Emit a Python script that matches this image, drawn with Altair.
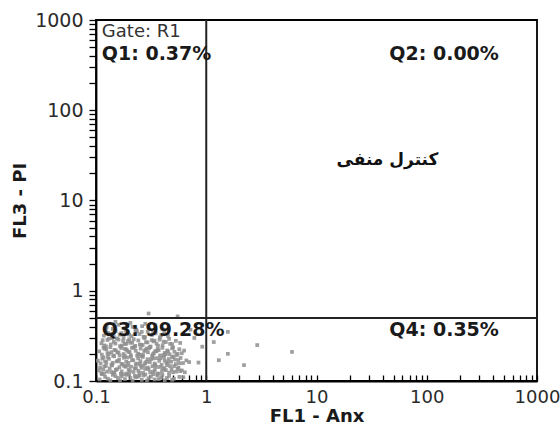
import altair as alt
import pandas as pd

# ---------------- data ----------------
band_a_x = [0.108,0.121,0.135,0.142,0.158,0.17,0.183,0.2,0.215,0.23,
            0.248,0.26,0.28,0.3,0.315,0.34,0.36,0.39,0.42,0.46,
            0.51,0.57,0.113,0.128,0.15,0.165,0.19,0.205,0.24,0.27,
            0.29,0.33,0.37,0.4,0.44,0.49,0.62,0.118,0.176,0.225]
band_a_y = [0.104,0.111,0.102,0.117,0.108,0.113,0.105,0.119,0.101,0.11,
            0.115,0.103,0.118,0.107,0.112,0.104,0.116,0.109,0.102,0.114,
            0.106,0.111,0.119,0.106,0.113,0.102,0.117,0.108,0.112,0.115,
            0.101,0.119,0.105,0.117,0.108,0.103,0.11,0.12,0.118,0.114]

band_b_x = [0.106,0.112,0.119,0.126,0.133,0.14,0.147,0.155,0.163,0.171,
            0.18,0.189,0.198,0.208,0.219,0.23,0.242,0.254,0.267,0.28,
            0.295,0.31,0.325,0.342,0.36,0.378,0.397,0.417,0.44,0.46,
            0.485,0.51,0.535,0.56,0.6,0.64,
            0.109,0.123,0.137,0.151,0.168,0.185,0.203,0.225,0.247,0.272,
            0.3,0.33,0.35,0.372,0.405,0.43,0.47,0.5,0.55,0.58,
            0.116,0.145,0.195,0.26]
band_b_y = [0.131,0.122,0.145,0.127,0.138,0.149,0.124,0.135,0.142,0.128,
            0.147,0.121,0.133,0.144,0.126,0.139,0.13,0.148,0.123,0.136,
            0.141,0.125,0.146,0.132,0.12,0.143,0.129,0.137,0.15,0.124,
            0.134,0.146,0.127,0.14,0.131,0.125,
            0.141,0.147,0.126,0.133,0.12,0.144,0.129,0.138,0.123,0.149,
            0.135,0.127,0.143,0.121,0.139,0.132,0.146,0.125,0.137,0.129,
            0.134,0.123,0.148,0.14]

band_c_x = [0.104,0.11,0.117,0.124,0.131,0.138,0.146,0.154,0.162,0.17,
            0.179,0.188,0.197,0.207,0.218,0.229,0.241,0.253,0.266,0.279,
            0.293,0.308,0.323,0.34,0.357,0.375,0.394,0.414,0.435,0.457,
            0.48,0.505,0.53,0.557,0.585,0.615,0.66,0.7,
            0.114,0.128,0.142,0.158,0.174,0.192,0.212,0.235,0.26,0.286,
            0.315,0.345,0.385,0.42,0.45,0.49,0.52,0.57,
            0.121,0.183,0.25,0.33]
band_c_y = [0.168,0.157,0.183,0.161,0.176,0.152,0.188,0.165,0.172,0.155,
            0.181,0.163,0.159,0.186,0.17,0.153,0.178,0.166,0.185,0.158,
            0.174,0.162,0.189,0.156,0.179,0.167,0.151,0.184,0.16,0.175,
            0.164,0.187,0.154,0.171,0.18,0.158,0.169,0.162,
            0.177,0.185,0.159,0.166,0.153,0.182,0.17,0.156,0.188,0.163,
            0.175,0.151,0.179,0.168,0.16,0.184,0.173,0.157,
            0.165,0.189,0.155,0.178]

band_d_x = [0.107,0.113,0.12,0.127,0.135,0.143,0.151,0.16,0.169,0.178,
            0.187,0.197,0.207,0.218,0.229,0.241,0.254,0.267,0.281,0.296,
            0.311,0.327,0.344,0.362,0.381,0.4,0.42,0.442,0.465,0.49,
            0.515,0.54,0.57,0.6,0.63,
            0.117,0.131,0.147,0.164,0.183,0.202,0.224,0.248,0.274,0.303,
            0.335,0.37,0.41,0.45,0.5,0.55,0.124,0.156,0.192,0.236,
            0.29,0.353,0.43,0.138,0.212]
band_d_y = [0.213,0.196,0.228,0.204,0.237,0.191,0.219,0.207,0.232,0.199,
            0.224,0.21,0.193,0.235,0.216,0.201,0.229,0.195,0.222,0.208,
            0.238,0.197,0.214,0.226,0.192,0.233,0.205,0.218,0.198,0.23,
            0.211,0.194,0.225,0.203,0.217,
            0.234,0.2,0.221,0.192,0.227,0.209,0.239,0.196,0.215,0.231,
            0.203,0.22,0.194,0.212,0.236,0.2,0.225,0.207,0.218,0.191,
            0.229,0.214,0.198,0.209,0.233]

band_e_x = [0.112,0.119,0.127,0.136,0.145,0.155,0.165,0.176,0.188,0.2,
            0.213,0.227,0.242,0.258,0.275,0.293,0.312,0.332,0.354,0.377,
            0.402,0.43,0.46,0.49,0.53,0.58,
            0.115,0.131,0.15,0.171,0.194,0.22,0.25,0.284,0.32,0.365,
            0.41,0.47,0.123,0.16,0.205,0.265,0.34,0.14,0.182]
band_e_y = [0.262,0.248,0.285,0.254,0.271,0.296,0.243,0.278,0.258,0.29,
            0.266,0.245,0.281,0.252,0.298,0.268,0.241,0.275,0.259,0.287,
            0.249,0.27,0.293,0.256,0.279,0.264,
            0.283,0.295,0.26,0.247,0.276,0.29,0.253,0.269,0.284,0.246,
            0.273,0.258,0.242,0.288,0.265,0.25,0.28,0.299,0.257]

band_f_x = [0.118,0.128,0.139,0.151,0.164,0.178,0.193,0.21,0.228,0.248,
            0.27,0.294,0.32,0.348,0.38,0.415,0.45,
            0.123,0.145,0.17,0.2,0.235,0.278,0.33,0.39,0.134,0.186,0.26]
band_f_y = [0.318,0.341,0.305,0.356,0.326,0.302,0.348,0.314,0.366,0.331,
            0.309,0.352,0.322,0.337,0.304,0.345,0.316,
            0.36,0.311,0.339,0.327,0.355,0.307,0.343,0.321,0.334,0.362,0.35]

band_g_x = [0.125,0.142,0.16,0.182,0.205,0.232,0.262,0.3,0.345,0.4,0.15,0.215,0.28,0.19]
band_g_y = [0.395,0.378,0.42,0.386,0.44,0.372,0.405,0.388,0.415,0.376,0.452,0.398,0.43,0.41]

# sparse events outside the main cloud
sparse_x = [0.78,0.85,0.92,0.72,1.17,1.57,1.57,2.2,2.9,6.0,1.3,0.3,0.55]
sparse_y = [0.30,0.16,0.24,0.37,0.27,0.35,0.20,0.15,0.25,0.21,0.17,0.56,0.52]

gate_x = [1.0]      # vertical quadrant line (FL1)
gate_y = [0.5]      # horizontal quadrant line (FL3)

tick_values = [0.1,0.2,0.3,0.4,0.5,0.6,0.7,0.8,0.9,
               1,2,3,4,5,6,7,8,9,
               10,20,30,40,50,60,70,80,90,
               100,200,300,400,500,600,700,800,900,1000]

bold_labels = ["Q1: 0.37%", "Q2: 0.00%", "Q3: 99.28%", "Q4: 0.35%"]
bold_lx = [0.113, 45.8, 0.113, 45.8]
bold_ly = [420, 420, 0.367, 0.367]

gate_label = ["Gate: R1"]
gate_lx = [0.113]
gate_ly = [730]

title_label = ["کنترل منفی"]
title_lx = [44]
title_ly = [28]

# ---------------- chart ----------------
W, H = 441, 361
FONT = "DejaVu Sans"

cx = band_a_x + band_b_x + band_c_x + band_d_x + band_e_x + band_f_x + band_g_x + sparse_x
cy = band_a_y + band_b_y + band_c_y + band_d_y + band_e_y + band_f_y + band_g_y + sparse_y
events = pd.DataFrame({"x": cx, "y": cy})

xscale = alt.Scale(type="log", domain=[0.1, 1000], nice=False)
yscale = alt.Scale(type="log", domain=[0.1, 1000], nice=False)
lab_expr = "indexof([0.1, 1, 10, 100, 1000], datum.value) >= 0 ? datum.label : ''"

points = alt.Chart(events).mark_square(size=14, color="#8e8e8e", opacity=0.85).encode(
    x=alt.X("x:Q", scale=xscale, axis=alt.Axis(
        orient="bottom", values=tick_values, format="~g", labelExpr=lab_expr,
        ticks=False, labelPadding=7, labelFlush=False, labelOverlap=False,
        labelFontSize=18, title="FL1  - Anx", titlePadding=1)),
    y=alt.Y("y:Q", scale=yscale, axis=alt.Axis(
        orient="left", values=tick_values, format="~g", labelExpr=lab_expr,
        ticks=True, tickSize=7, tickColor="#000000", tickWidth=1.3, tickOpacity=1,
        labelPadding=6, labelFlush=False, labelOverlap=False,
        labelFontSize=19,
        title="FL3 - PI", titleX=-76, titleY=H / 2, titleBaseline="middle",
        titleAngle=-90)),
)

vline = alt.Chart(pd.DataFrame({"g": gate_x})).mark_rule(color="#222222", strokeWidth=2).encode(
    x=alt.X("g:Q", scale=xscale, axis=alt.Axis(
        orient="top", offset=-H, values=tick_values, labels=False, domain=False,
        ticks=True, tickSize=6, tickColor="#000000", tickWidth=1.3, tickOpacity=1,
        title=None, grid=False)),
)

hline = alt.Chart(pd.DataFrame({"g": gate_y})).mark_rule(color="#222222", strokeWidth=2).encode(
    y=alt.Y("g:Q", scale=yscale, axis=None),
)

qtext = alt.Chart(pd.DataFrame({"x": bold_lx, "y": bold_ly, "t": bold_labels})).mark_text(
    font=FONT, fontSize=19, fontWeight="bold", align="left", baseline="middle", color="#1a1a1a"
).encode(x=alt.X("x:Q", scale=xscale, axis=None), y=alt.Y("y:Q", scale=yscale, axis=None), text="t:N")

gtext = alt.Chart(pd.DataFrame({"x": gate_lx, "y": gate_ly, "t": gate_label})).mark_text(
    font=FONT, fontSize=18, align="left", baseline="middle", color="#333333"
).encode(x=alt.X("x:Q", scale=xscale, axis=None), y=alt.Y("y:Q", scale=yscale, axis=None), text="t:N")

ptext = alt.Chart(pd.DataFrame({"x": title_lx, "y": title_ly, "t": title_label})).mark_text(
    font=FONT, fontSize=17, fontWeight="bold", align="center", baseline="middle", color="#111111"
).encode(x=alt.X("x:Q", scale=xscale, axis=None), y=alt.Y("y:Q", scale=yscale, axis=None), text="t:N")

chart = alt.layer(points, vline, hline, qtext, gtext, ptext).resolve_axis(
    x="independent", y="independent"
).properties(
    width=W, height=H,
    autosize=alt.AutoSizeParams(type="none"),
    padding={"left": 96, "top": 20, "right": 23, "bottom": 53},
    background="white",
).configure_view(
    stroke="black", strokeWidth=1.8
).configure_axis(
    domainColor="black", domainWidth=1.8,
    labelFont=FONT, labelFontSize=18, labelColor="#2a2a2a",
    titleFont=FONT, titleFontSize=18, titleFontWeight="bold", titleColor="#1a1a1a",
    grid=False,
)

chart.save("out.html", embed_options={"renderer": "svg", "actions": False})
